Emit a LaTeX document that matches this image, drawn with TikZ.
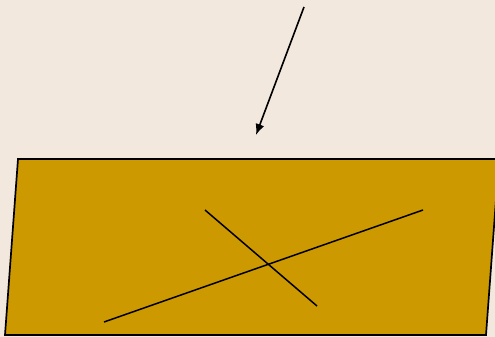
\documentclass[tikz,border=0pt]{standalone}
\usetikzlibrary{arrows.meta}
\definecolor{bg}{HTML}{F2E8DE}
\definecolor{plane}{HTML}{CC9900}
\tikzset{
  planeshape/.style={fill=plane, draw=black, line width=1.7pt, line join=miter},
  crossline/.style={draw=black, line width=1.5pt},
  ray/.style={draw=black, line width=1.6pt, -{Latex[length=11pt,width=9pt]}}
}
\begin{document}
\begin{tikzpicture}[x=1pt,y=-1pt]
\fill[bg] (0,0) rectangle (495,337);
\useasboundingbox (0,0) rectangle (495,337);
\coordinate (p1) at (18,159);
\coordinate (p2) at (499,159);
\coordinate (p3) at (486,335);
\coordinate (p4) at (5,335);
\path[planeshape] (p1) -- (p2) -- (p3) -- (p4) -- cycle;
\coordinate (a1) at (205,210);
\coordinate (a2) at (317,306);
\coordinate (b1) at (104,322);
\coordinate (b2) at (423,210);
\path[crossline] (a1) -- (a2);
\path[crossline] (b1) -- (b2);
\coordinate (r1) at (304,7);
\coordinate (r2) at (256,135);
\path[ray] (r1) -- (r2);
\end{tikzpicture}
\end{document}
